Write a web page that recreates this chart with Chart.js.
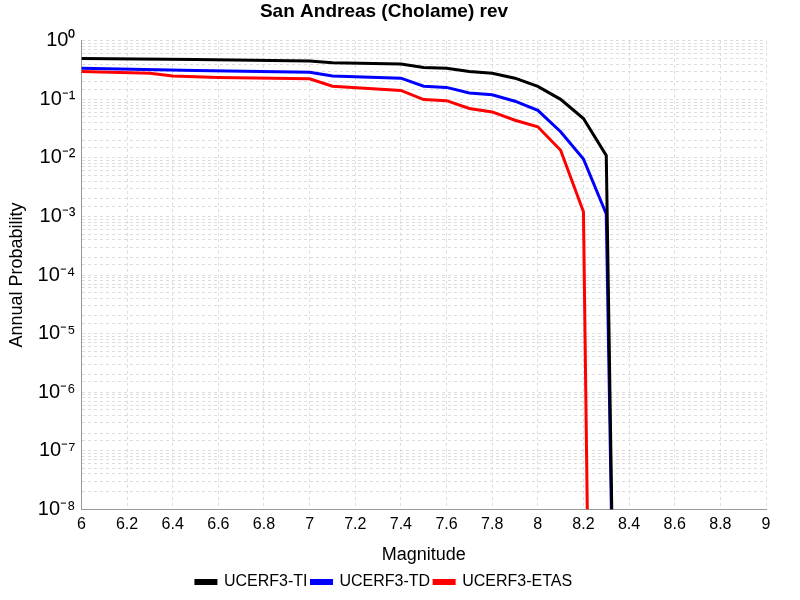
<!DOCTYPE html>
<html lang="en">
<head>
  <meta charset="UTF-8" />
  <title>San Andreas (Cholame) rev</title>
  <script src="https://cdn.jsdelivr.net/npm/chart.js"></script>
  <style>
    body { margin: 0; background: #fff; }
  </style>
</head>
<body>
  <canvas id="chart" width="800" height="600"></canvas>
  <script>
    // magnitudes and annual probabilities
    const magsTI = [6.0, 6.5, 7.0, 7.1, 7.4, 7.5, 7.6, 7.7, 7.8, 7.9, 8.0, 8.1, 8.2, 8.3, 8.34];
    const probTI = [0.50, 0.48, 0.45, 0.42, 0.40, 0.35, 0.34, 0.30, 0.28, 0.23, 0.166, 0.10, 0.047, 0.011, 1e-12];
    const magsTD = [6.0, 6.5, 7.0, 7.1, 7.4, 7.5, 7.6, 7.7, 7.8, 7.9, 8.0, 8.1, 8.2, 8.3, 8.34];
    const probTD = [0.34, 0.31, 0.29, 0.25, 0.23, 0.168, 0.16, 0.128, 0.12, 0.093, 0.065, 0.028, 0.0096, 0.0011, 1e-12];
    const magsETAS = [6.0, 6.3, 6.4, 6.6, 7.0, 7.1, 7.4, 7.5, 7.6, 7.7, 7.8, 7.9, 8.0, 8.1, 8.2, 8.23];
    const probETAS = [0.30, 0.28, 0.25, 0.237, 0.224, 0.168, 0.142, 0.099, 0.095, 0.07, 0.061, 0.044, 0.034, 0.0135, 0.0012, 1e-12];
    const supers = { '-': '⁻', '0': '⁰', '1': '¹', '2': '²', '3': '³', '4': '⁴', '5': '⁵', '6': '⁶', '7': '⁷', '8': '⁸', '9': '⁹' };

    const pts = (xs, ys) => xs.map((x, i) => ({ x: x, y: ys[i] }));
    const line = (label, color, xs, ys) => ({
      label: label, data: pts(xs, ys), borderColor: color, backgroundColor: color,
      borderWidth: 3, pointRadius: 0, tension: 0
    });
    const grid = { color: '#dddddd', drawTicks: false };
    const border = { color: '#999', dash: [3, 3] };

    new Chart(document.getElementById('chart'), {
      type: 'line',
      data: {
        datasets: [
          line('UCERF3-TI', '#000000', magsTI, probTI),
          line('UCERF3-TD', '#0000ff', magsTD, probTD),
          line('UCERF3-ETAS', '#ff0000', magsETAS, probETAS)
        ]
      },
      options: {
        responsive: false,
        animation: false,
        layout: { padding: { right: 34, top: 0, left: 2 } },
        plugins: {
          title: { display: true, text: 'San Andreas (Cholame) rev', color: '#000',
                   font: { family: 'Liberation Sans', size: 19, weight: 'bold' }, padding: { top: 0, bottom: 18 } },
          legend: {
            position: 'bottom',
            labels: { color: '#000', font: { family: 'Liberation Sans', size: 16 }, boxWidth: 20, boxHeight: 3, padding: 4 }
          }
        },
        scales: {
          x: {
            type: 'linear', min: 6, max: 9,
            ticks: { stepSize: 0.2, color: '#000', font: { family: 'Liberation Sans', size: 16 }, padding: 6,
                     maxRotation: 0, autoSkip: false, callback: v => Math.round(v * 10) / 10 },
            grid: grid, border: border,
            title: { display: true, text: 'Magnitude', color: '#000', font: { family: 'Liberation Sans', size: 18 } }
          },
          y: {
            type: 'logarithmic', min: 1e-8, max: 1,
            ticks: {
              color: '#000', font: { family: 'Liberation Sans', size: 20 }, autoSkip: false, padding: 6,
              callback: v => {
                const e = Math.log10(v);
                if (Math.abs(e - Math.round(e)) > 1e-6) return '';
                return '10' + String(Math.round(e)).split('').map(c => supers[c]).join('');
              }
            },
            grid: grid, border: border,
            title: { display: true, text: 'Annual Probability', color: '#000', font: { family: 'Liberation Sans', size: 18 } }
          }
        }
      }
    });
  </script>
</body>
</html>
